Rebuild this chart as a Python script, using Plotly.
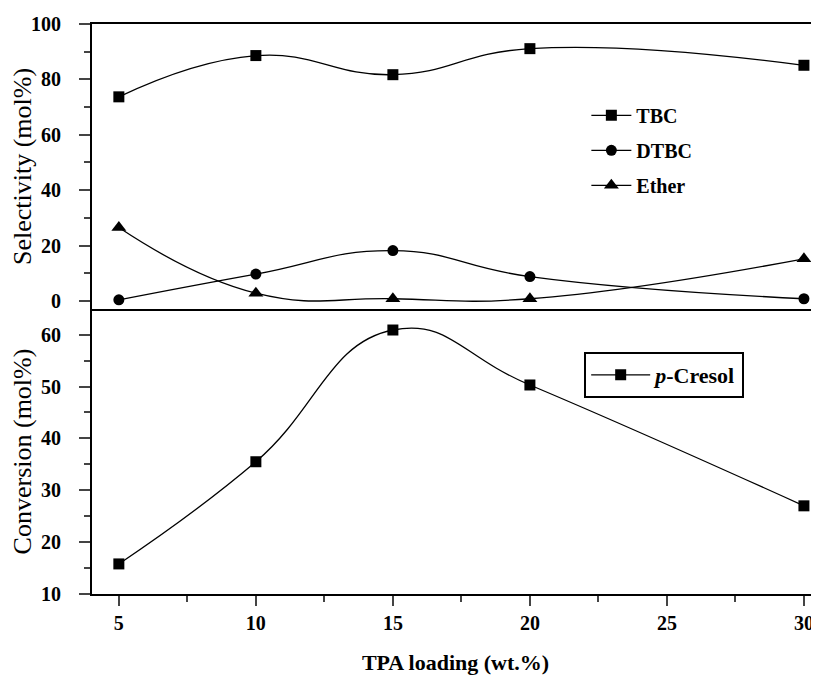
import plotly.graph_objects as go

loading = [5, 10, 15, 20, 30]
tbc = [73.7, 88.6, 81.7, 91.1, 85.1]
dtbc = [0.4, 9.7, 18.2, 8.8, 0.8]
ether = [26.5, 2.8, 0.8, 0.8, 15.2]
cresol = [15.8, 35.5, 60.9, 50.3, 27.0]

serif = "Liberation Serif"
line_style = dict(color="black", width=1.3, shape="spline", smoothing=1.3)

fig = go.Figure()
fig.add_trace(go.Scatter(x=loading, y=tbc, name="TBC", mode="lines+markers", legendgroup="a",
                         line=line_style, marker=dict(symbol="square", size=11, color="black"),
                         xaxis="x2", yaxis="y2", legend="legend"))
fig.add_trace(go.Scatter(x=loading, y=dtbc, name="DTBC", mode="lines+markers", legendgroup="b",
                         line=line_style, marker=dict(symbol="circle", size=11, color="black"),
                         xaxis="x2", yaxis="y2", legend="legend"))
fig.add_trace(go.Scatter(x=loading, y=ether, name="Ether", mode="lines+markers", legendgroup="c",
                         line=line_style, marker=dict(symbol="triangle-up", size=13, color="black"),
                         xaxis="x2", yaxis="y2", legend="legend"))
fig.add_trace(go.Scatter(x=loading, y=cresol, name="<i>p</i>-Cresol", mode="lines+markers",
                         line=line_style, marker=dict(symbol="square", size=11, color="black"),
                         xaxis="x", yaxis="y", legend="legend2"))

tickfont = dict(family=serif, size=20, color="black", weight="bold")

# the page body adds an 8px offset, so the figure is 8px smaller on each side
fig.update_layout(
    width=811, height=667,
    margin=dict(l=84, r=0, t=16, b=81),
    paper_bgcolor="white", plot_bgcolor="white",
    font=dict(family=serif, color="black"),
    xaxis=dict(domain=[0, 1], range=[4.02, 30.55], anchor="y", automargin=False,
               tickvals=[5, 10, 15, 20, 25, 30], ticks="outside", ticklen=10, tickwidth=1.5,
               minor=dict(tickvals=[7.5, 12.5, 17.5, 22.5, 27.5], ticks="outside", ticklen=6, tickwidth=1.5),
               showline=True, linecolor="black", linewidth=2, mirror=False,
               showgrid=False, zeroline=False, tickfont=tickfont, ticklabelstandoff=0,
               title=dict(text="<b>TPA loading (wt.%)</b>", font=dict(family=serif, size=22), standoff=22)),
    xaxis2=dict(domain=[0, 1], range=[4.02, 30.55], anchor="y2", matches="x", automargin=False,
                showticklabels=False, ticks="",
                showline=True, linecolor="black", linewidth=2, mirror=True,
                showgrid=False, zeroline=False),
    yaxis=dict(domain=[0, 0.5], range=[10, 64.95], anchor="x", automargin=False,
               tickvals=[10, 20, 30, 40, 50, 60], ticks="outside", ticklen=11, tickwidth=1.5,
               minor=dict(tickvals=[15, 25, 35, 45, 55], ticks="outside", ticklen=6, tickwidth=1.5),
               showline=True, linecolor="black", linewidth=2, ticklabelstandoff=14,
               showgrid=False, zeroline=False, tickfont=tickfont,
               title=dict(text="Conversion (mol%)", font=dict(family=serif, size=26), standoff=2)),
    yaxis2=dict(domain=[0.5, 1], range=[-2.9, 100], anchor="x2", automargin=False,
                tickvals=[0, 20, 40, 60, 80, 100], ticks="outside", ticklen=11, tickwidth=1.5,
                minor=dict(tickvals=[10, 30, 50, 70, 90], ticks="outside", ticklen=6, tickwidth=1.5),
                showline=True, linecolor="black", linewidth=2, ticklabelstandoff=14,
                showgrid=False, zeroline=False, tickfont=tickfont,
                title=dict(text="Selectivity (mol%)", font=dict(family=serif, size=26), standoff=2)),
    legend=dict(x=0.68, y=0.874, xanchor="left", yanchor="top",
                bgcolor="rgba(0,0,0,0)", borderwidth=0, itemwidth=40, tracegroupgap=6,
                font=dict(family=serif, size=20, weight="bold")),
    legend2=dict(x=0.677, y=0.4246, xanchor="left", yanchor="top",
                 bgcolor="white", bordercolor="black", borderwidth=2, itemwidth=59,
                 font=dict(family=serif, size=22, weight="bold")),
    showlegend=True,
)

fig.write_html("out.html")
